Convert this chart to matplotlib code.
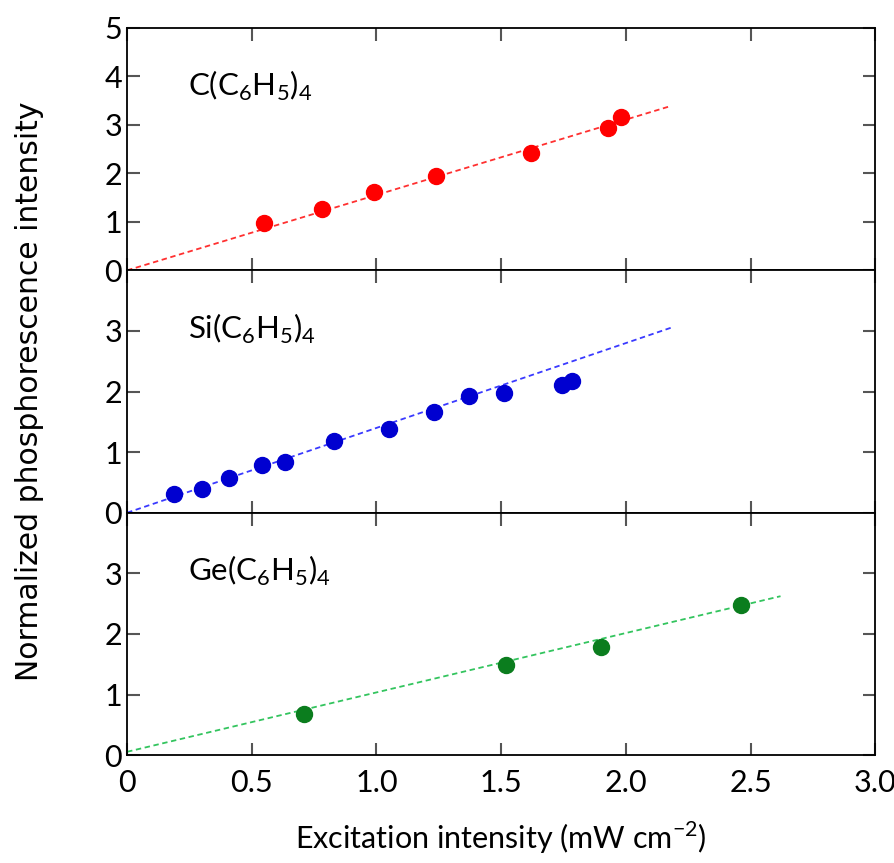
import numpy as np
import matplotlib.pyplot as plt

# Measured phosphorescence vs excitation intensity for the three compounds
c_x = [0.55, 0.78, 0.99, 1.24, 1.62, 1.93, 1.98]
c_y = [0.98, 1.27, 1.61, 1.94, 2.43, 2.93, 3.16]

si_x = [0.19, 0.30, 0.41, 0.54, 0.635, 0.83, 1.05, 1.23, 1.37, 1.51, 1.745, 1.785]
si_y = [0.31, 0.385, 0.57, 0.78, 0.84, 1.18, 1.38, 1.67, 1.93, 1.97, 2.10, 2.18]

ge_x = [0.71, 1.52, 1.90, 2.46]
ge_y = [0.68, 1.48, 1.78, 2.48]

# Linear fits (slope, intercept, x end of the dashed line)
c_fit = (1.555, 0.0, 2.18)
si_fit = (1.40, 0.0, 2.18)
ge_fit = (0.98, 0.055, 2.62)

labels = [r'C(C$_6$H$_5$)$_4$', r'Si(C$_6$H$_5$)$_4$', r'Ge(C$_6$H$_5$)$_4$']
ylims = [5, 4, 4]
yticks = [[0, 1, 2, 3, 4, 5], [0, 1, 2, 3], [0, 1, 2, 3]]
xticks = [0, 0.5, 1.0, 1.5, 2.0, 2.5, 3.0]
xticklabels = ['0', '0.5', '1.0', '1.5', '2.0', '2.5', '3.0']

plt.rcParams['font.family'] = ['Lato', 'DejaVu Sans']
plt.rcParams['mathtext.fontset'] = 'custom'
plt.rcParams['mathtext.rm'] = 'Lato'

fig, axes = plt.subplots(3, 1, sharex=True, figsize=(8.95, 8.63), dpi=100)
fig.subplots_adjust(left=0.142, right=0.978, bottom=0.125, top=0.9676, hspace=0)

series = [(c_x, c_y, c_fit, 'red', '#ff3030'),
          (si_x, si_y, si_fit, '#0000d0', '#3a3aff'),
          (ge_x, ge_y, ge_fit, '#0b7d1e', '#33c45e')]

for i, (ax, (x, y, fit, col, lcol)) in enumerate(zip(axes, series)):
    slope, icpt, xend = fit
    lx = np.array([0, xend])
    ax.plot(lx, slope * lx + icpt, '--', color=lcol, lw=1.3, dashes=(3, 2))
    ax.plot(x, y, 'o', color=col, ms=11.5)
    ax.text(0.245, ylims[i] * 0.76, labels[i], fontsize=22.5, va='center')
    ax.set_xlim(0, 3.0)
    ax.set_ylim(0, ylims[i])
    ax.set_yticks(yticks[i])
    ax.tick_params(direction='in', length=9, width=1.5, color='#555555',
                   top=True, right=True, labelsize=22)
    for sp in ax.spines.values():
        sp.set_linewidth(1.3)

axes[2].set_xticks(xticks)
axes[2].set_xticklabels(xticklabels)
axes[2].tick_params(axis='x', pad=10)
axes[2].set_xlabel('Excitation intensity (mW cm$^{-2}$)', fontsize=22, labelpad=16)
fig.text(0.033, 0.547, 'Normalized phosphorescence intensity', rotation=90,
         fontsize=21.5, family='DejaVu Sans', va='center', ha='center')

plt.savefig('out.png')
